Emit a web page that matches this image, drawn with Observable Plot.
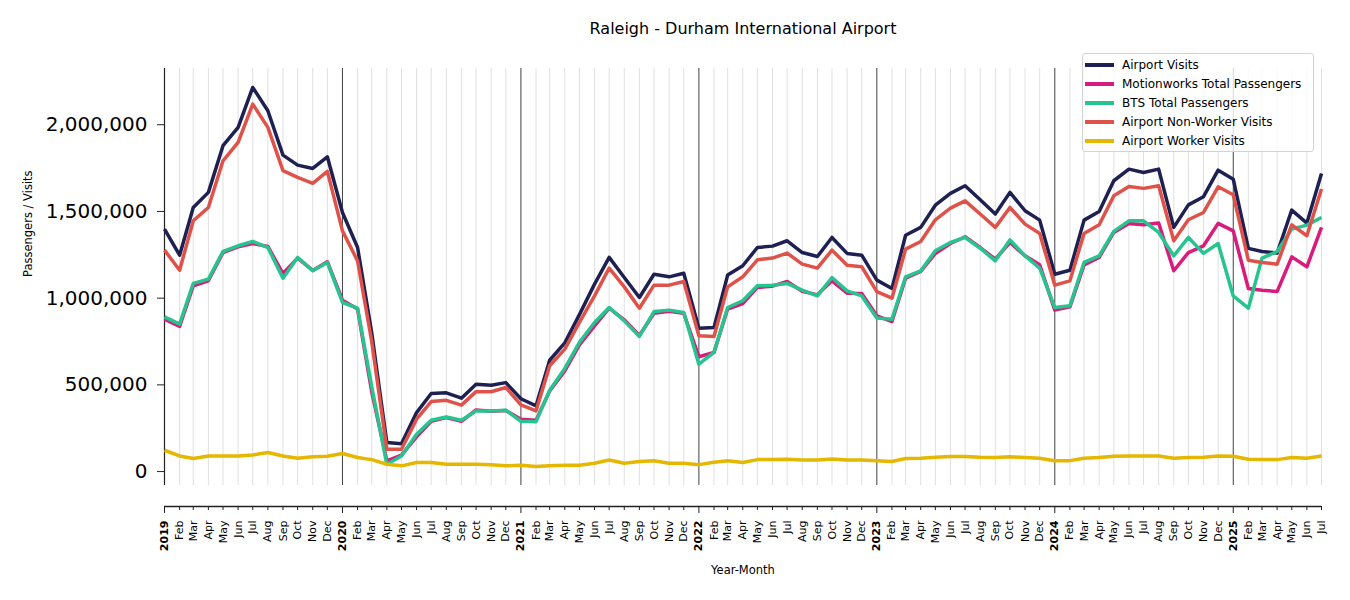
<!DOCTYPE html>
<html><head><meta charset="utf-8">
<script src="https://cdn.jsdelivr.net/npm/d3@7"></script>
<script src="https://cdn.jsdelivr.net/npm/@observablehq/plot@0.6"></script>
<style>
body{margin:0;background:#fff;font-family:"DejaVu Sans",sans-serif;}
#wrap{position:relative;width:1350px;height:600px;}
#wrap svg{position:absolute;left:0;top:0;}
#legend{position:absolute;left:1082px;top:53px;width:232px;height:99px;box-sizing:border-box;border:1px solid #d3d3d3;border-radius:3px;background:rgba(255,255,255,0.8);padding:1px 0 0 2px;font-size:12px;color:#000;z-index:2;}
.item{display:flex;align-items:center;height:19.1px;white-space:nowrap;}
.sw{width:29px;height:4px;margin-right:8px;flex:none;}
</style></head>
<body><div id="wrap"><div id="legend"></div></div>
<script>
const title = "Raleigh - Durham International Airport";
const yLabel = "Passengers / Visits";
const xLabel = "Year-Month";
const startMonth = "2019-01-01";
const endMonth = "2025-07-01";
const seriesNames = ["Airport Visits", "Motionworks Total Passengers", "BTS Total Passengers", "Airport Non-Worker Visits", "Airport Worker Visits"];
const seriesColors = ["#1f2052", "#d81b7c", "#27c48f", "#df524a", "#e5b700"];
const yTicks = [0, 500000, 1000000, 1500000, 2000000];

const airportVisits = [1398000,1248000,1523000,1610000,1879000,1985000,2215000,2081000,1825000,1767000,1748000,1815000,
  1494000,1292000,800000,167000,161000,340000,450000,454000,423000,504000,498000,513000,
  420000,379000,642000,742000,905000,1081000,1235000,1119000,1004000,1138000,1123000,1144000,
  827000,831000,1133000,1187000,1292000,1300000,1331000,1263000,1240000,1350000,1258000,1248000,
  1104000,1056000,1363000,1408000,1536000,1604000,1648000,1567000,1485000,1610000,1504000,1450000,
  1138000,1161000,1450000,1500000,1677000,1744000,1725000,1744000,1408000,1538000,1585000,1738000,
  1686000,1287000,1269000,1260000,1508000,1433000,1719000];
const motionworks = [879000,837000,1071000,1100000,1263000,1296000,1315000,1298000,1142000,1231000,1160000,1210000,
  988000,937000,460000,62000,95000,200000,290000,312000,290000,355000,348000,352000,
  302000,296000,465000,580000,730000,840000,942000,875000,785000,913000,925000,913000,
  662000,687000,937000,969000,1062000,1069000,1096000,1040000,1019000,1100000,1029000,1027000,
  898000,865000,1115000,1154000,1258000,1315000,1354000,1292000,1225000,1321000,1244000,1192000,
  931000,950000,1192000,1235000,1379000,1431000,1423000,1433000,1158000,1263000,1302000,1431000,
  1388000,1056000,1046000,1038000,1238000,1181000,1408000];
const bts = [892000,850000,1085000,1110000,1269000,1302000,1327000,1292000,1115000,1235000,1158000,1206000,
  975000,942000,490000,42000,90000,215000,296000,315000,296000,350000,350000,354000,
  290000,288000,469000,595000,745000,860000,946000,869000,779000,923000,931000,917000,
  619000,687000,946000,985000,1071000,1075000,1085000,1046000,1013000,1119000,1042000,1013000,
  885000,879000,1123000,1158000,1273000,1321000,1350000,1288000,1215000,1336000,1244000,1173000,
  946000,956000,1206000,1244000,1385000,1446000,1446000,1379000,1244000,1350000,1258000,1315000,
  1013000,942000,1231000,1269000,1398000,1421000,1465000];
const nonWorker = [1277000,1161000,1446000,1523000,1792000,1898000,2119000,1985000,1735000,1696000,1662000,1731000,
  1388000,1215000,750000,129000,129000,302000,404000,411000,383000,461000,460000,485000,
  385000,350000,610000,706000,860000,1013000,1173000,1065000,942000,1075000,1075000,1096000,
  783000,779000,1065000,1123000,1221000,1231000,1260000,1196000,1173000,1277000,1190000,1181000,
  1038000,1000000,1283000,1327000,1452000,1519000,1561000,1485000,1408000,1523000,1427000,1373000,
  1075000,1100000,1373000,1423000,1590000,1644000,1633000,1648000,1331000,1452000,1494000,1642000,
  1596000,1219000,1206000,1196000,1423000,1360000,1629000];
const worker = [123000,90000,75000,90000,90000,90000,96000,110000,90000,77000,85000,88000,
  104000,81000,69000,42000,33000,52000,52000,42000,42000,42000,40000,33000,
  37000,29000,33000,37000,37000,48000,67000,48000,58000,62000,48000,48000,
  40000,54000,62000,52000,69000,69000,71000,67000,67000,73000,67000,67000,
  62000,58000,75000,77000,83000,87000,87000,83000,81000,85000,81000,77000,
  63000,63000,77000,81000,88000,90000,90000,90000,77000,81000,83000,90000,
  88000,71000,69000,69000,81000,77000,90000];

const seriesValues = [airportVisits, motionworks, bts, nonWorker, worker];
const dates = d3.utcMonth.range(new Date(startMonth), d3.utcMonth.offset(new Date(endMonth), 1));
const yearStarts = dates.filter(d => d.getUTCMonth() === 0);
const otherMonths = dates.filter(d => d.getUTCMonth() !== 0);

const allVals = seriesValues.flat();
const lo = d3.min(allVals), hi = d3.max(allVals), pad = (hi - lo) * 0.05;
const yDomain = [lo - pad, hi + pad];

const font = "DejaVu Sans";
const axisDy = 21;

const lineMarks = seriesValues.map((vals, k) =>
  Plot.lineY(dates.map((d, i) => ({date: d, value: vals[i]})), {
    x: "date", y: "value", stroke: seriesColors[k], strokeWidth: 3.5,
    strokeLinejoin: "round", strokeLinecap: "butt"
  }));

const chart = Plot.plot({
  width: 1350, height: 600,
  marginLeft: 164, marginRight: 29, marginTop: 68, marginBottom: 115,
  style: {fontFamily: font, background: "transparent", color: "#000", overflow: "visible"},
  x: {type: "utc", domain: [dates[0], dates[dates.length - 1]]},
  y: {domain: yDomain},
  marks: [
    Plot.ruleX(otherMonths, {stroke: "#e0e0e0", strokeWidth: 1}),
    Plot.ruleX(yearStarts.slice(1), {stroke: "#111", strokeWidth: 0.8}),
    Plot.ruleX([dates[0]], {stroke: "#222", strokeWidth: 1.2}),
    Plot.axisY(yTicks, {tickFormat: d3.format(","), tickSize: 7, tickPadding: 10, fontSize: 20, label: null, stroke: "#222"}),
    Plot.ruleY([yDomain[0]], {dy: axisDy, stroke: "#222", strokeWidth: 1.4}),
    Plot.axisX(otherMonths, {tickFormat: d3.utcFormat("%b"), tickSize: 4, tickPadding: 10, tickRotate: -90, fontSize: 11, dy: axisDy, label: null, stroke: "#222"}),
    Plot.axisX(yearStarts, {tickFormat: d3.utcFormat("%Y"), tickSize: 7, tickPadding: 7, tickRotate: -90, fontSize: 11, fontWeight: "bold", dy: axisDy, label: null, stroke: "#222"}),
    ...lineMarks,
    Plot.text([title], {text: d => d, frameAnchor: "top", dy: -35, lineAnchor: "bottom", fontSize: 16, fill: "#000"}),
    Plot.text([yLabel], {text: d => d, frameAnchor: "left", dx: -136, rotate: -90, fontSize: 11.5, fill: "#000"}),
    Plot.text([xLabel], {text: d => d, frameAnchor: "bottom", dy: 80, lineAnchor: "top", fontSize: 11.5, fill: "#000"})
  ]
});
const wrap = document.getElementById("wrap");
wrap.insertBefore(chart, wrap.firstChild);

const legend = document.getElementById("legend");
seriesNames.forEach((name, k) => {
  const item = document.createElement("div");
  item.className = "item";
  const sw = document.createElement("div");
  sw.className = "sw";
  sw.style.background = seriesColors[k];
  const lab = document.createElement("span");
  lab.textContent = name;
  item.appendChild(sw); item.appendChild(lab);
  legend.appendChild(item);
});
</script>
</body></html>
